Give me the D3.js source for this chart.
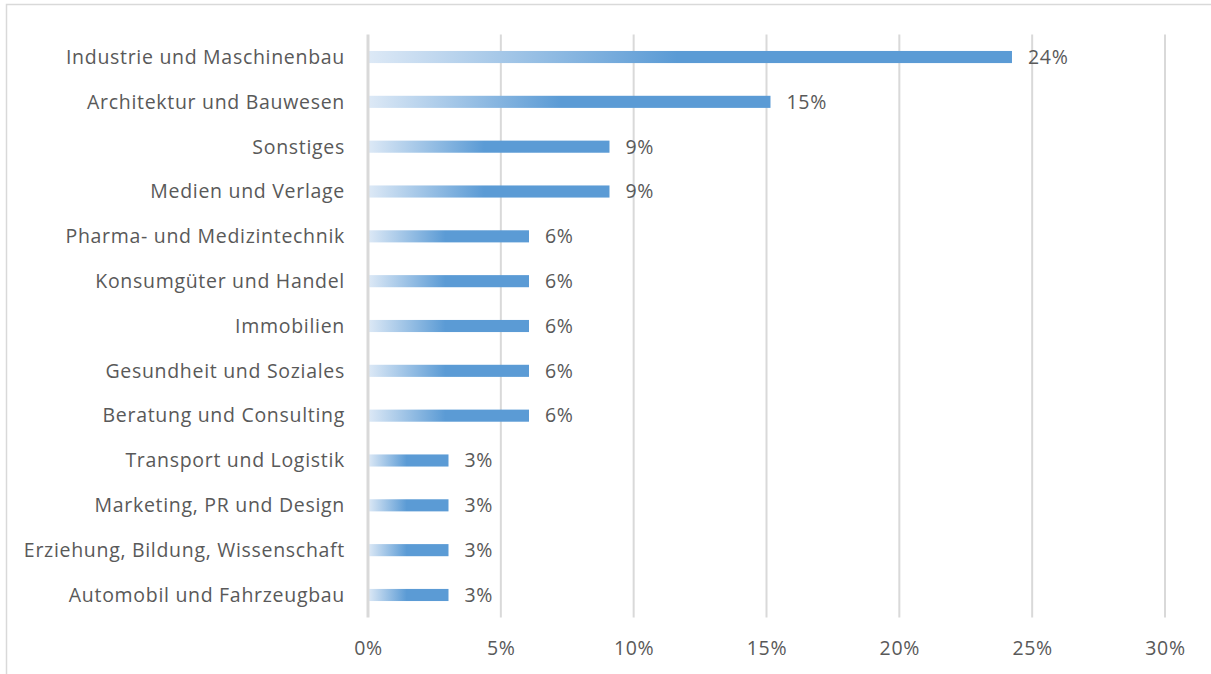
<!DOCTYPE html>
<html>
<head>
<meta charset="utf-8">
<script src="https://cdn.jsdelivr.net/npm/d3@7"></script>
<style>
  html, body { margin: 0; padding: 0; background: #fff; }
  svg { display: block; }
</style>
</head>
<body>
<svg id="chart" width="1211" height="674"></svg>
<script>
// Industries, top to bottom
const categories = [
  "Industrie und Maschinenbau",
  "Architektur und Bauwesen",
  "Sonstiges",
  "Medien und Verlage",
  "Pharma- und Medizintechnik",
  "Konsumgüter und Handel",
  "Immobilien",
  "Gesundheit und Soziales",
  "Beratung und Consulting",
  "Transport und Logistik",
  "Marketing, PR und Design",
  "Erziehung, Bildung, Wissenschaft",
  "Automobil und Fahrzeugbau"
];
// Share of responses (fraction)
const shares = [
  0.2424, 0.1515, 0.0909, 0.0909, 0.0606, 0.0606, 0.0606,
  0.0606, 0.0606, 0.0303, 0.0303, 0.0303, 0.0303
];
const xTicks = [0, 0.05, 0.10, 0.15, 0.20, 0.25, 0.30];

const data = categories.map((c, i) => ({ name: c, value: shares[i] }));

const svg = d3.select("#chart");
const W = 1211, H = 674;
const margin = { left: 368, right: 46, top: 34.6, bottom: 56.6 };
const font = "'Open Sans', sans-serif";
const fontSize = 19.5;
const spacing = "0.7px";
const textColor = "#595959";

// outer frame
svg.append("rect")
  .attr("x", 6.5).attr("y", 4.5)
  .attr("width", W + 10).attr("height", H + 10)
  .attr("fill", "none").attr("stroke", "#d9d9d9").attr("stroke-width", 1.5);

const x = d3.scaleLinear().domain([0, 0.30]).range([margin.left, W - margin.right]);
const y = d3.scaleBand().domain(categories).range([margin.top, H - margin.bottom]).paddingInner(0.73).paddingOuter(0.365);

// gradient: pale at the bar start, full blue from the middle on
const defs = svg.append("defs");
const grad = defs.append("linearGradient")
  .attr("id", "barGrad")
  .attr("gradientUnits", "objectBoundingBox")
  .attr("x1", 0).attr("y1", 0).attr("x2", 1).attr("y2", 0);
grad.append("stop").attr("offset", "0%").attr("stop-color", "#dde9f6");
grad.append("stop").attr("offset", "48%").attr("stop-color", "#5b9bd5");
grad.append("stop").attr("offset", "100%").attr("stop-color", "#5b9bd5");

// vertical gridlines
const gridTop = margin.top, gridBottom = H - margin.bottom;
svg.append("g").selectAll("line")
  .data(xTicks.slice(1))
  .join("line")
  .attr("x1", d => x(d)).attr("x2", d => x(d))
  .attr("y1", gridTop).attr("y2", gridBottom)
  .attr("stroke", "#d9d9d9").attr("stroke-width", 2);

// bars
svg.append("g").selectAll("rect")
  .data(data)
  .join("rect")
  .attr("x", x(0))
  .attr("y", d => y(d.name))
  .attr("width", d => x(d.value) - x(0))
  .attr("height", y.bandwidth())
  .attr("fill", "url(#barGrad)");

// zero axis line
svg.append("line")
  .attr("x1", x(0)).attr("x2", x(0))
  .attr("y1", gridTop).attr("y2", gridBottom)
  .attr("stroke", "#d9d9d9").attr("stroke-width", 3);

// value labels
const pct = d3.format(".0%");
svg.append("g").selectAll("text")
  .data(data)
  .join("text")
  .attr("x", d => x(d.value) + 16)
  .attr("y", d => y(d.name) + y.bandwidth() / 2)
  .attr("dy", "0.35em")
  .attr("font-family", font)
  .attr("font-size", fontSize)
  .attr("letter-spacing", spacing)
  .attr("fill", textColor)
  .text(d => pct(d.value));

// category axis
const yAxis = svg.append("g")
  .attr("transform", `translate(${x(0)},0)`)
  .call(d3.axisLeft(y).tickSize(0).tickPadding(23));
yAxis.select(".domain").remove();
yAxis.selectAll("text")
  .attr("font-family", font)
  .attr("font-size", fontSize)
  .attr("letter-spacing", spacing)
  .attr("fill", textColor)
  .attr("dy", "0.35em");

// percentage axis
const xAxis = svg.append("g")
  .attr("transform", `translate(0,${gridBottom})`)
  .call(d3.axisBottom(x).tickValues(xTicks).tickFormat(d3.format(".0%")).tickSize(0).tickPadding(24));
xAxis.select(".domain").remove();
xAxis.selectAll("text")
  .attr("font-family", font)
  .attr("font-size", fontSize)
  .attr("letter-spacing", spacing)
  .attr("fill", textColor);
</script>
</body>
</html>
